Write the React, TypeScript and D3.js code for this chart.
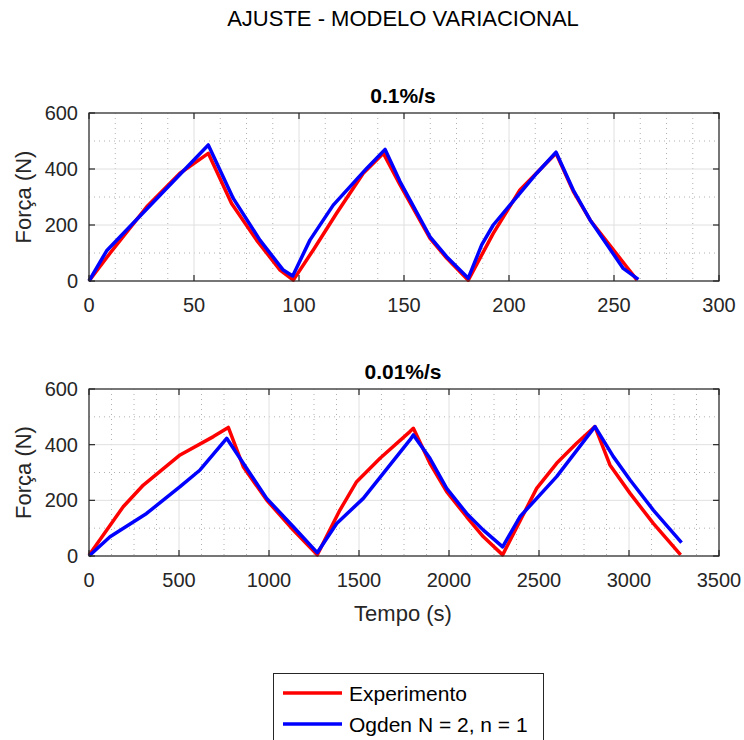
import React from "react";
import * as d3 from "d3";

type P = [number, number];

const topExpX = [0, 10, 27.5, 43.3, 56.8, 67.9, 79.8, 91, 97.3, 106.8, 117.9, 130.6, 140.2, 148, 162.4, 170.3, 180.6, 192.5, 205.2, 222.4, 230.6, 238.6, 256, 261];
const topExpY = [0, 99, 265, 385, 456, 277, 146, 39, 3, 111, 242, 385, 456, 345, 152, 82, 3, 170, 325, 456, 320, 218, 51, 3];
const topModX = [0, 8.4, 56.8, 68.7, 81.4, 92.5, 97, 105.2, 116.3, 132.2, 141, 148.1, 162.4, 170.3, 180.6, 187, 192.5, 213.2, 222.4, 230.6, 238.6, 254.4, 261.6];
const topModY = [0, 108, 486, 295, 146, 39, 18, 146, 271, 402, 470, 355, 158, 87, 10, 129, 200, 385, 460, 325, 218, 45, 6];

const botExpX = [0, 190, 302, 506, 691, 774, 857, 987, 1135, 1268, 1394, 1487, 1617, 1783, 1802, 1894, 1987, 2098, 2191, 2298, 2487, 2598, 2709, 2811, 2894, 3006, 3135, 3287];
const botExpY = [3, 177, 255, 363, 429, 462, 321, 201, 93, 4, 165, 267, 351, 447, 459, 333, 231, 141, 69, 4, 243, 333, 405, 465, 327, 225, 117, 4];
const botModX = [0, 117, 320, 506, 617, 765, 857, 987, 1135, 1268, 1376, 1524, 1783, 1802, 1894, 1987, 2098, 2191, 2298, 2394, 2598, 2811, 2913, 3006, 3135, 3292];
const botModY = [0, 69, 153, 249, 309, 423, 333, 207, 105, 12, 117, 207, 417, 435, 351, 243, 153, 93, 33, 141, 285, 465, 357, 273, 165, 48];

const topXTicks = [0, 50, 100, 150, 200, 250, 300];
const botXTicks = [0, 500, 1000, 1500, 2000, 2500, 3000, 3500];
const yTicks = [0, 200, 400, 600];
const yMinor = [100, 300, 500];
const topXMinor = [12.5, 25, 37.5, 62.5, 75, 87.5, 112.5, 125, 137.5, 162.5, 175, 187.5, 212.5, 225, 237.5, 262.5, 275, 287.5];
const botXMinor = [125, 250, 375, 625, 750, 875, 1125, 1250, 1375, 1625, 1750, 1875, 2125, 2250, 2375, 2625, 2750, 2875, 3125, 3250, 3375];

const FONT = "'Liberation Sans', Arial, sans-serif";
const AX = "#262626";

const zip = (xs: number[], ys: number[]): P[] => xs.map((x, i) => [x, ys[i]]);

function Panel(props: {
  top: number; bottom: number; xMax: number; xTicks: number[]; xMinor: number[];
  title: string; exp: P[]; mod: P[];
}) {
  const L = 89, R = 719;
  const x = d3.scaleLinear().domain([0, props.xMax]).range([L, R]);
  const y = d3.scaleLinear().domain([0, 600]).range([props.bottom, props.top]);
  const line = d3.line<P>().x(d => x(d[0])).y(d => y(d[1]));
  const tl = 6;
  return (
    <g>
      {props.xMinor.map(v => (
        <line key={"xm" + v} x1={x(v)} x2={x(v)} y1={props.top} y2={props.bottom} stroke="#b0b0b0" strokeWidth={1} strokeDasharray="1,4" />
      ))}
      {yMinor.map(v => (
        <line key={"ym" + v} x1={L} x2={R} y1={y(v)} y2={y(v)} stroke="#b0b0b0" strokeWidth={1} strokeDasharray="1,4" />
      ))}
      {props.xTicks.map(v => (
        <line key={"xg" + v} x1={x(v)} x2={x(v)} y1={props.top} y2={props.bottom} stroke="#e0e0e0" strokeWidth={1} />
      ))}
      {yTicks.map(v => (
        <line key={"yg" + v} x1={L} x2={R} y1={y(v)} y2={y(v)} stroke="#e0e0e0" strokeWidth={1} />
      ))}
      <path d={line(props.exp) || ""} fill="none" stroke="#ff0000" strokeWidth={3.5} strokeLinejoin="round" />
      <path d={line(props.mod) || ""} fill="none" stroke="#0000ff" strokeWidth={3.5} strokeLinejoin="round" />
      <rect x={L} y={props.top} width={R - L} height={props.bottom - props.top} fill="none" stroke={AX} strokeWidth={1.2} />
      {props.xTicks.map(v => (
        <g key={"xt" + v}>
          <line x1={x(v)} x2={x(v)} y1={props.bottom} y2={props.bottom - tl} stroke={AX} strokeWidth={1.2} />
          <line x1={x(v)} x2={x(v)} y1={props.top} y2={props.top + tl} stroke={AX} strokeWidth={1.2} />
          <text x={x(v)} y={props.bottom + 31} textAnchor="middle" fontSize={20} fontFamily={FONT} fill={AX}>{v}</text>
        </g>
      ))}
      {yTicks.map(v => (
        <g key={"yt" + v}>
          <line x1={L} x2={L + tl} y1={y(v)} y2={y(v)} stroke={AX} strokeWidth={1.2} />
          <line x1={R} x2={R - tl} y1={y(v)} y2={y(v)} stroke={AX} strokeWidth={1.2} />
          <text x={L - 11} y={y(v) + 7} textAnchor="end" fontSize={20} fontFamily={FONT} fill={AX}>{v}</text>
        </g>
      ))}
      <text x={403} y={props.top - 10} textAnchor="middle" fontSize={21} fontWeight="bold" fontFamily={FONT} fill="#000">{props.title}</text>
      <text transform={`translate(31,${(props.top + props.bottom) / 2}) rotate(-90)`} textAnchor="middle" fontSize={22} fontFamily={FONT} fill={AX}>Força (N)</text>
    </g>
  );
}

export default function App() {
  return (
    <svg width={744} height={740} style={{ position: "absolute", left: 0, top: 0, background: "#fff" }}>
      <rect x={0} y={0} width={744} height={740} fill="#fff" />
      <text x={403} y={26} textAnchor="middle" fontSize={22} fontFamily={FONT} fill="#000">AJUSTE - MODELO VARIACIONAL</text>
      <Panel top={113} bottom={281} xMax={300} xTicks={topXTicks} xMinor={topXMinor} title="0.1%/s" exp={zip(topExpX, topExpY)} mod={zip(topModX, topModY)} />
      <Panel top={389} bottom={556} xMax={3500} xTicks={botXTicks} xMinor={botXMinor} title="0.01%/s" exp={zip(botExpX, botExpY)} mod={zip(botModX, botModY)} />
      <text x={403} y={621} textAnchor="middle" fontSize={22} fontFamily={FONT} fill={AX}>Tempo (s)</text>
      <rect x={273.5} y={673.5} width={270} height={80} fill="#fff" stroke={AX} strokeWidth={1} />
      <line x1={283} x2={342} y1={693} y2={693} stroke="#ff0000" strokeWidth={3.5} />
      <line x1={283} x2={342} y1={724} y2={724} stroke="#0000ff" strokeWidth={3.5} />
      <text x={349} y={701} fontSize={21} fontFamily={FONT} fill="#000">Experimento</text>
      <text x={349} y={732} fontSize={21} fontFamily={FONT} fill="#000">Ogden N = 2, n = 1</text>
    </svg>
  );
}
